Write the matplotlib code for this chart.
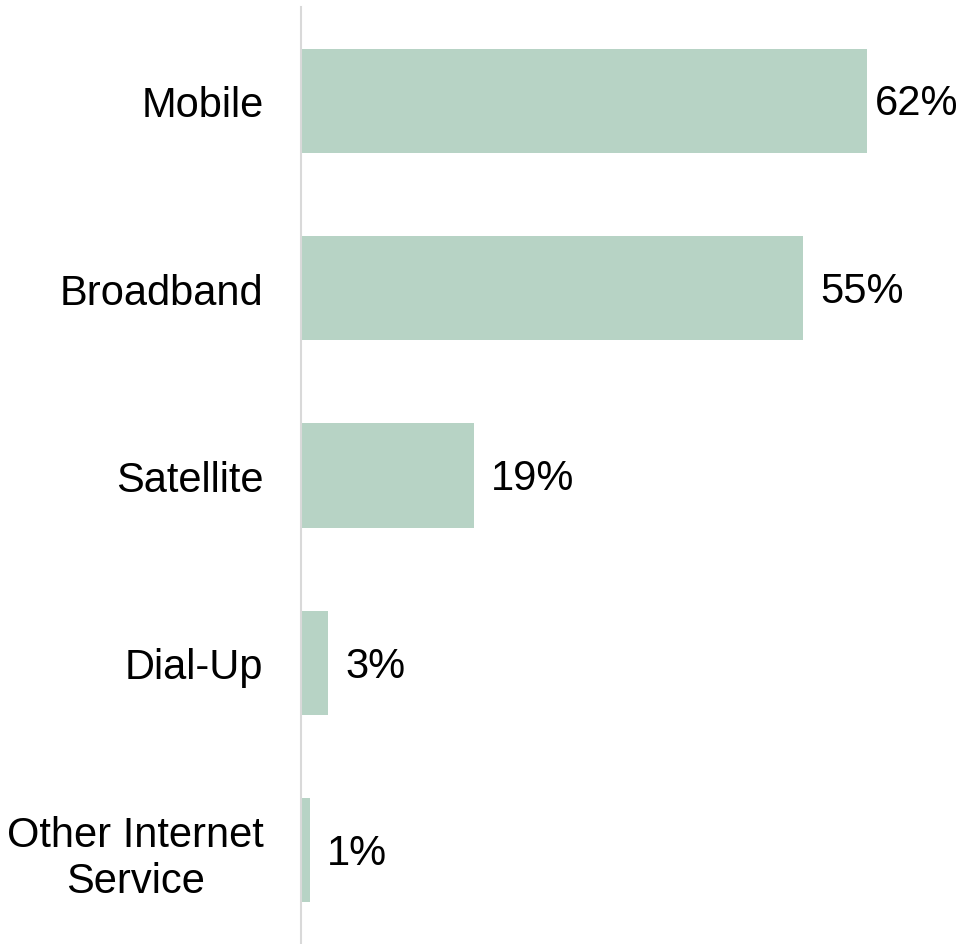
import matplotlib
matplotlib.use("Agg")
import matplotlib.pyplot as plt
from matplotlib.transforms import offset_copy

categories = ["Mobile", "Broadband", "Satellite", "Dial-Up", "Other Internet\nService"]
values = [62, 55, 19, 3, 1]
value_labels = ["62%", "55%", "19%", "3%", "1%"]

plt.rcParams['font.family'] = ['Liberation Sans', 'DejaVu Sans']

W, H = 973, 945
fig = plt.figure(figsize=(W / 100, H / 100), dpi=100)
ax = fig.add_axes([301 / W, 0, (W - 301) / W, (H - 8) / H])

bar_color = "#B7D3C5"
ypos = list(range(len(categories)))
ax.barh(ypos, values, height=0.556, color=bar_color)
ax.set_ylim(len(categories) - 0.5, -0.5)
ax.set_xlim(0, 73.6)

ax.set_yticks(ypos)
ax.set_yticklabels(categories, fontsize=30, multialignment='center')
ax.tick_params(axis='y', length=0, pad=27)
ax.set_xticks([])

for s in ["top", "right", "bottom"]:
    ax.spines[s].set_visible(False)
ax.spines["left"].set_color("#D9D9D9")
ax.spines["left"].set_linewidth(1.5)

fig.canvas.draw()
renderer = fig.canvas.get_renderer()
for y, v, lab in zip(ypos, values, value_labels):
    tr = offset_copy(ax.transData, fig=fig, x=12, y=-2, units='points')
    t = ax.text(v, y, lab, fontsize=30, va='center', ha='left', transform=tr)
    bb = t.get_window_extent(renderer)
    if bb.x1 > W - 12:
        shift = (bb.x1 - (W - 15)) * 72 / 100
        t.set_transform(offset_copy(ax.transData, fig=fig, x=12 - shift, y=-2, units='points'))

fig.savefig("out.png", dpi=100)
